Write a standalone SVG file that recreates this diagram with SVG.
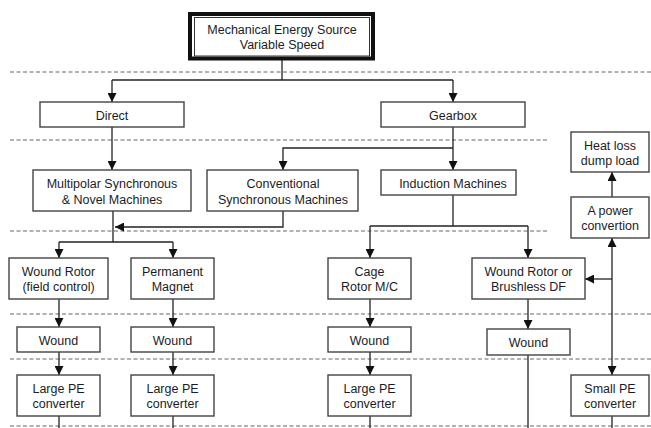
<svg xmlns="http://www.w3.org/2000/svg" width="651" height="428" viewBox="0 0 651 428">
  <defs>
    <marker id="arrow" viewBox="0 0 10 10" refX="10" refY="5" markerWidth="9" markerHeight="9" markerUnits="userSpaceOnUse" orient="auto">
      <path d="M0,0 L10,5 L0,10 Z" fill="#111"/>
    </marker>
    <style>
      .box { fill: #fff; stroke: #444; stroke-width: 1.4; }
      .lbl { font-family: "Liberation Sans", Arial, sans-serif; font-size: 12.5px; fill: #1c1c28; text-anchor: middle; }
      .dash { stroke: #666; stroke-width: 1; stroke-dasharray: 4 2.5; fill: none; }
      .wire { stroke: #222; stroke-width: 1.3; fill: none; }
      .arr { marker-end: url(#arrow); }
    </style>
  </defs>
  <rect width="651" height="428" fill="#fff"/>

  <!-- level separators -->
  <g id="separators">
    <line class="dash" x1="10" y1="72" x2="651" y2="72"/>
    <line class="dash" x1="10" y1="140" x2="548" y2="140"/>
    <line class="dash" x1="10" y1="231" x2="548" y2="231"/>
    <line class="dash" x1="10" y1="314" x2="651" y2="314"/>
    <line class="dash" x1="10" y1="359" x2="651" y2="359"/>
    <line class="dash" x1="10" y1="426" x2="651" y2="426"/>
  </g>

  <!-- connectors -->
  <g id="connectors">
    <polyline class="wire" points="282,60 282,80"/>
    <polyline class="wire" points="112,80 453,80"/>
    <line class="wire arr" x1="112" y1="80" x2="112" y2="102"/>
    <line class="wire arr" x1="453" y1="80" x2="453" y2="102"/>

    <line class="wire arr" x1="112" y1="127" x2="112" y2="170"/>
    <line class="wire arr" x1="453" y1="127" x2="453" y2="170"/>
    <polyline class="wire arr" points="453,148 283,148 283,170"/>

    <polyline class="wire arr" points="283,211 283,227 115,227"/>
    <line class="wire" x1="113" y1="211" x2="113" y2="242"/>
    <line class="wire" x1="59" y1="242" x2="173" y2="242"/>
    <line class="wire arr" x1="59" y1="242" x2="59" y2="258"/>
    <line class="wire arr" x1="173" y1="242" x2="173" y2="258"/>

    <line class="wire" x1="453" y1="195" x2="453" y2="226"/>
    <line class="wire" x1="370" y1="226" x2="528" y2="226"/>
    <line class="wire arr" x1="370" y1="226" x2="370" y2="258"/>
    <line class="wire arr" x1="528" y1="226" x2="528" y2="258"/>

    <line class="wire arr" x1="59" y1="299" x2="59" y2="327"/>
    <line class="wire arr" x1="59" y1="352" x2="59" y2="375"/>
    <line class="wire" x1="59" y1="416" x2="59" y2="428"/>
    <line class="wire arr" x1="173" y1="299" x2="173" y2="327"/>
    <line class="wire arr" x1="173" y1="352" x2="173" y2="375"/>
    <line class="wire" x1="173" y1="416" x2="173" y2="428"/>
    <line class="wire arr" x1="370" y1="299" x2="370" y2="327"/>
    <line class="wire arr" x1="370" y1="352" x2="370" y2="375"/>
    <line class="wire" x1="370" y1="416" x2="370" y2="428"/>

    <line class="wire arr" x1="528" y1="299" x2="528" y2="329"/>
    <line class="wire" x1="528" y1="355" x2="528" y2="428"/>

    <line class="wire arr" x1="612" y1="197" x2="612" y2="172"/>
    <line class="wire arr" x1="612" y1="279" x2="612" y2="238"/>
    <line class="wire arr" x1="612" y1="279" x2="612" y2="375"/>
    <line class="wire arr" x1="612" y1="279" x2="585" y2="279"/>
    <line class="wire" x1="612" y1="416" x2="612" y2="428"/>
  </g>

  <!-- source -->
  <g id="source">
    <rect x="190" y="14" width="183" height="44.5" fill="#fff" stroke="#111" stroke-width="4"/>
    <rect x="194.5" y="17.5" width="175" height="38.5" fill="#fff" stroke="#333" stroke-width="1"/>
    <text class="lbl" x="282" y="33.5">Mechanical Energy Source</text>
    <text class="lbl" x="282" y="48.5">Variable Speed</text>
  </g>

  <g id="direct">
    <rect class="box" x="40" y="102" width="144" height="25"/>
    <text class="lbl" x="112" y="119.5">Direct</text>
  </g>
  <g id="gearbox">
    <rect class="box" x="381" y="102" width="144" height="25"/>
    <text class="lbl" x="453" y="119.5">Gearbox</text>
  </g>

  <g id="multipolar">
    <rect class="box" x="33" y="170" width="158" height="41"/>
    <text class="lbl" x="112" y="187.5">Multipolar Synchronous</text>
    <text class="lbl" x="112" y="203.5">&amp; Novel Machines</text>
  </g>
  <g id="conventional">
    <rect class="box" x="207" y="170" width="151" height="41"/>
    <text class="lbl" x="283" y="187.5">Conventional</text>
    <text class="lbl" x="283" y="203.5">Synchronous Machines</text>
  </g>
  <g id="induction">
    <rect class="box" x="381" y="170" width="135" height="25"/>
    <text class="lbl" x="453" y="187.5">Induction Machines</text>
  </g>

  <g id="heat-loss">
    <rect class="box" x="571" y="132" width="78" height="40"/>
    <text class="lbl" x="610" y="149.5">Heat loss</text>
    <text class="lbl" x="610" y="164.5">dump load</text>
  </g>
  <g id="power-convertion">
    <rect class="box" x="571" y="197" width="78" height="41"/>
    <text class="lbl" x="610" y="214.5">A power</text>
    <text class="lbl" x="610" y="229.5">convertion</text>
  </g>

  <g id="wound-rotor-field">
    <rect class="box" x="9" y="258" width="99" height="41"/>
    <text class="lbl" x="58.5" y="275.5">Wound Rotor</text>
    <text class="lbl" x="58.5" y="290.5">(field control)</text>
  </g>
  <g id="permanent-magnet">
    <rect class="box" x="131" y="258" width="83" height="41"/>
    <text class="lbl" x="172.5" y="275.5">Permanent</text>
    <text class="lbl" x="172.5" y="290.5">Magnet</text>
  </g>
  <g id="cage-rotor">
    <rect class="box" x="328" y="258" width="83" height="41"/>
    <text class="lbl" x="369.5" y="275.5">Cage</text>
    <text class="lbl" x="369.5" y="290.5">Rotor M/C</text>
  </g>
  <g id="wound-rotor-bdf">
    <rect class="box" x="472" y="258" width="113" height="41"/>
    <text class="lbl" x="528.5" y="275.5">Wound Rotor or</text>
    <text class="lbl" x="528.5" y="290.5">Brushless DF</text>
  </g>

  <g id="wound-1">
    <rect class="box" x="17" y="327" width="83" height="25"/>
    <text class="lbl" x="58.5" y="344.5">Wound</text>
  </g>
  <g id="wound-2">
    <rect class="box" x="131" y="327" width="83" height="25"/>
    <text class="lbl" x="172.5" y="344.5">Wound</text>
  </g>
  <g id="wound-3">
    <rect class="box" x="328" y="327" width="83" height="25"/>
    <text class="lbl" x="369.5" y="344.5">Wound</text>
  </g>
  <g id="wound-4">
    <rect class="box" x="487" y="329" width="83" height="26"/>
    <text class="lbl" x="528.5" y="346.5">Wound</text>
  </g>

  <g id="large-pe-1">
    <rect class="box" x="17" y="375" width="83" height="41"/>
    <text class="lbl" x="58.5" y="392.5">Large PE</text>
    <text class="lbl" x="58.5" y="407.5">converter</text>
  </g>
  <g id="large-pe-2">
    <rect class="box" x="131" y="375" width="83" height="41"/>
    <text class="lbl" x="172.5" y="392.5">Large PE</text>
    <text class="lbl" x="172.5" y="407.5">converter</text>
  </g>
  <g id="large-pe-3">
    <rect class="box" x="328" y="375" width="83" height="41"/>
    <text class="lbl" x="369.5" y="392.5">Large PE</text>
    <text class="lbl" x="369.5" y="407.5">converter</text>
  </g>
  <g id="small-pe">
    <rect class="box" x="571" y="375" width="78" height="41"/>
    <text class="lbl" x="610" y="392.5">Small PE</text>
    <text class="lbl" x="610" y="407.5">converter</text>
  </g>
</svg>
